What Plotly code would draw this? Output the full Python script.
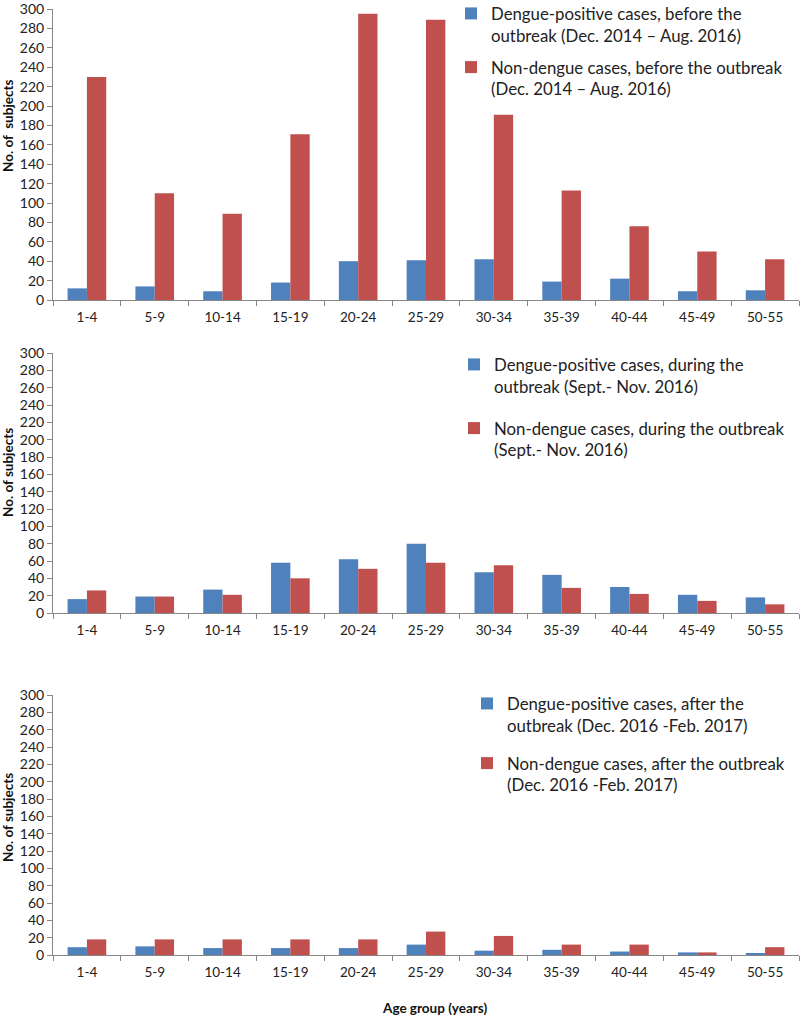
import plotly.graph_objects as go
from plotly.subplots import make_subplots

age_groups = ["1-4", "5-9", "10-14", "15-19", "20-24", "25-29", "30-34", "35-39", "40-44", "45-49", "50-55"]
before_dengue = [12, 14, 9, 18, 40, 41, 42, 19, 22, 9, 10]
before_non = [230, 110, 89, 171, 295, 289, 191, 113, 76, 50, 42]
during_dengue = [16, 19, 27, 58, 62, 80, 47, 44, 30, 21, 18]
during_non = [26, 19, 21, 40, 51, 58, 55, 29, 22, 14, 10]
after_dengue = [9, 10, 8, 8, 8, 12, 5, 6, 4, 3, 2]
after_non = [18, 18, 18, 18, 18, 27, 22, 12, 12, 3, 9]

y_ticks = list(range(0, 301, 20))
y_titles = ["No. of  subjects", "No. of subjects", "No. of subjects"]
x_title = "Age group (years)"

names = [
    ("Dengue-positive cases, before the<br>outbreak (Dec. 2014 \u2013 Aug. 2016)",
     "Non-dengue cases, before the outbreak<br>(Dec. 2014 \u2013 Aug. 2016)"),
    ("Dengue-positive cases, during the<br>outbreak (Sept.- Nov. 2016)",
     "Non-dengue cases, during the outbreak<br>(Sept.- Nov. 2016)"),
    ("Dengue-positive cases, after the<br>outbreak (Dec. 2016 -Feb. 2017)",
     "Non-dengue cases, after the outbreak<br>(Dec. 2016 -Feb. 2017)"),
]
series = [(before_dengue, before_non), (during_dengue, during_non), (after_dengue, after_non)]

BLUE = "#4F81BD"
RED = "#C0504D"
AXC = "#868686"
FONT = "Lato"
H = 1015.0
W = 800.0

fig = make_subplots(rows=3, cols=1)
legend_ids = ["legend", "legend2", "legend3"]
for i, ((d, n), (nd, nn)) in enumerate(zip(series, names)):
    fig.add_trace(go.Bar(x=age_groups, y=d, name=nd, marker=dict(color=BLUE, line=dict(width=0)),
                         legend=legend_ids[i], legendgroup=f"g{i}a"), row=i + 1, col=1)
    fig.add_trace(go.Bar(x=age_groups, y=n, name=nn, marker=dict(color=RED, line=dict(width=0)),
                         legend=legend_ids[i], legendgroup=f"g{i}b"), row=i + 1, col=1)

# panel geometry in pixels (top, bottom)
panels = [(9, 300), (353, 613), (695, 955)]
xdom = [53 / W, 799 / W]
for i, (t, b) in enumerate(panels):
    fig.update_xaxes(domain=xdom, row=i + 1, col=1)
    fig.update_yaxes(domain=[1 - b / H, 1 - t / H], row=i + 1, col=1)

fig.update_xaxes(showline=True, linecolor=AXC, linewidth=1, ticks="outside", tickson="boundaries",
                 ticklen=5, tickcolor=AXC, showgrid=False, zeroline=False, automargin=False,
                 ticklabelstandoff=5,
                 tickfont=dict(family=FONT, size=13.5, color="#222"))
fig.update_yaxes(range=[0, 300], tickvals=y_ticks, showline=True, linecolor=AXC, linewidth=1,
                 ticks="outside", ticklen=5, tickcolor=AXC, showgrid=False, zeroline=False,
                 automargin=False, ticklabeloverflow="allow",
                 tickfont=dict(family=FONT, size=14, color="#222"))

legend_pos = [(451, -4, 7), (454, 347, 17), (467, 686, 13)]
legend_cfg = {}
for lid, (lx, ly, gap) in zip(legend_ids, legend_pos):
    legend_cfg[lid] = dict(x=lx / W, y=1 - ly / H, xanchor="left", yanchor="top",
                           bgcolor="rgba(0,0,0,0)", font=dict(family=FONT, size=16.8, color="#222"),
                           traceorder="grouped", tracegroupgap=gap, valign="top",
                           itemclick=False, itemdoubleclick=False)

annotations = []
for txt, yc in zip(y_titles, [126, 473, 818]):
    annotations.append(dict(text=f"<b>{txt}</b>", x=8 / W, y=1 - yc / H, xref="paper", yref="paper",
                            xanchor="center", yanchor="middle", textangle=-90, showarrow=False,
                            font=dict(family=FONT, size=13.5, color="#111")))
annotations.append(dict(text=f"<b>{x_title}</b>", x=434 / W, y=1 - 1008 / H, xref="paper", yref="paper",
                        xanchor="center", yanchor="middle", showarrow=False,
                        font=dict(family=FONT, size=13.5, color="#111")))

fig.update_layout(
    template="none",
    width=800, height=1015,
    margin=dict(l=0, r=0, t=0, b=0, autoexpand=False),
    paper_bgcolor="white", plot_bgcolor="white",
    barmode="group", bargap=0.43, bargroupgap=0,
    showlegend=True,
    font=dict(family=FONT, color="#222"),
    annotations=annotations,
    **legend_cfg,
)

fig.write_html("out.html", config={"displayModeBar": False},
               post_script="document.body.style.margin='0';")
